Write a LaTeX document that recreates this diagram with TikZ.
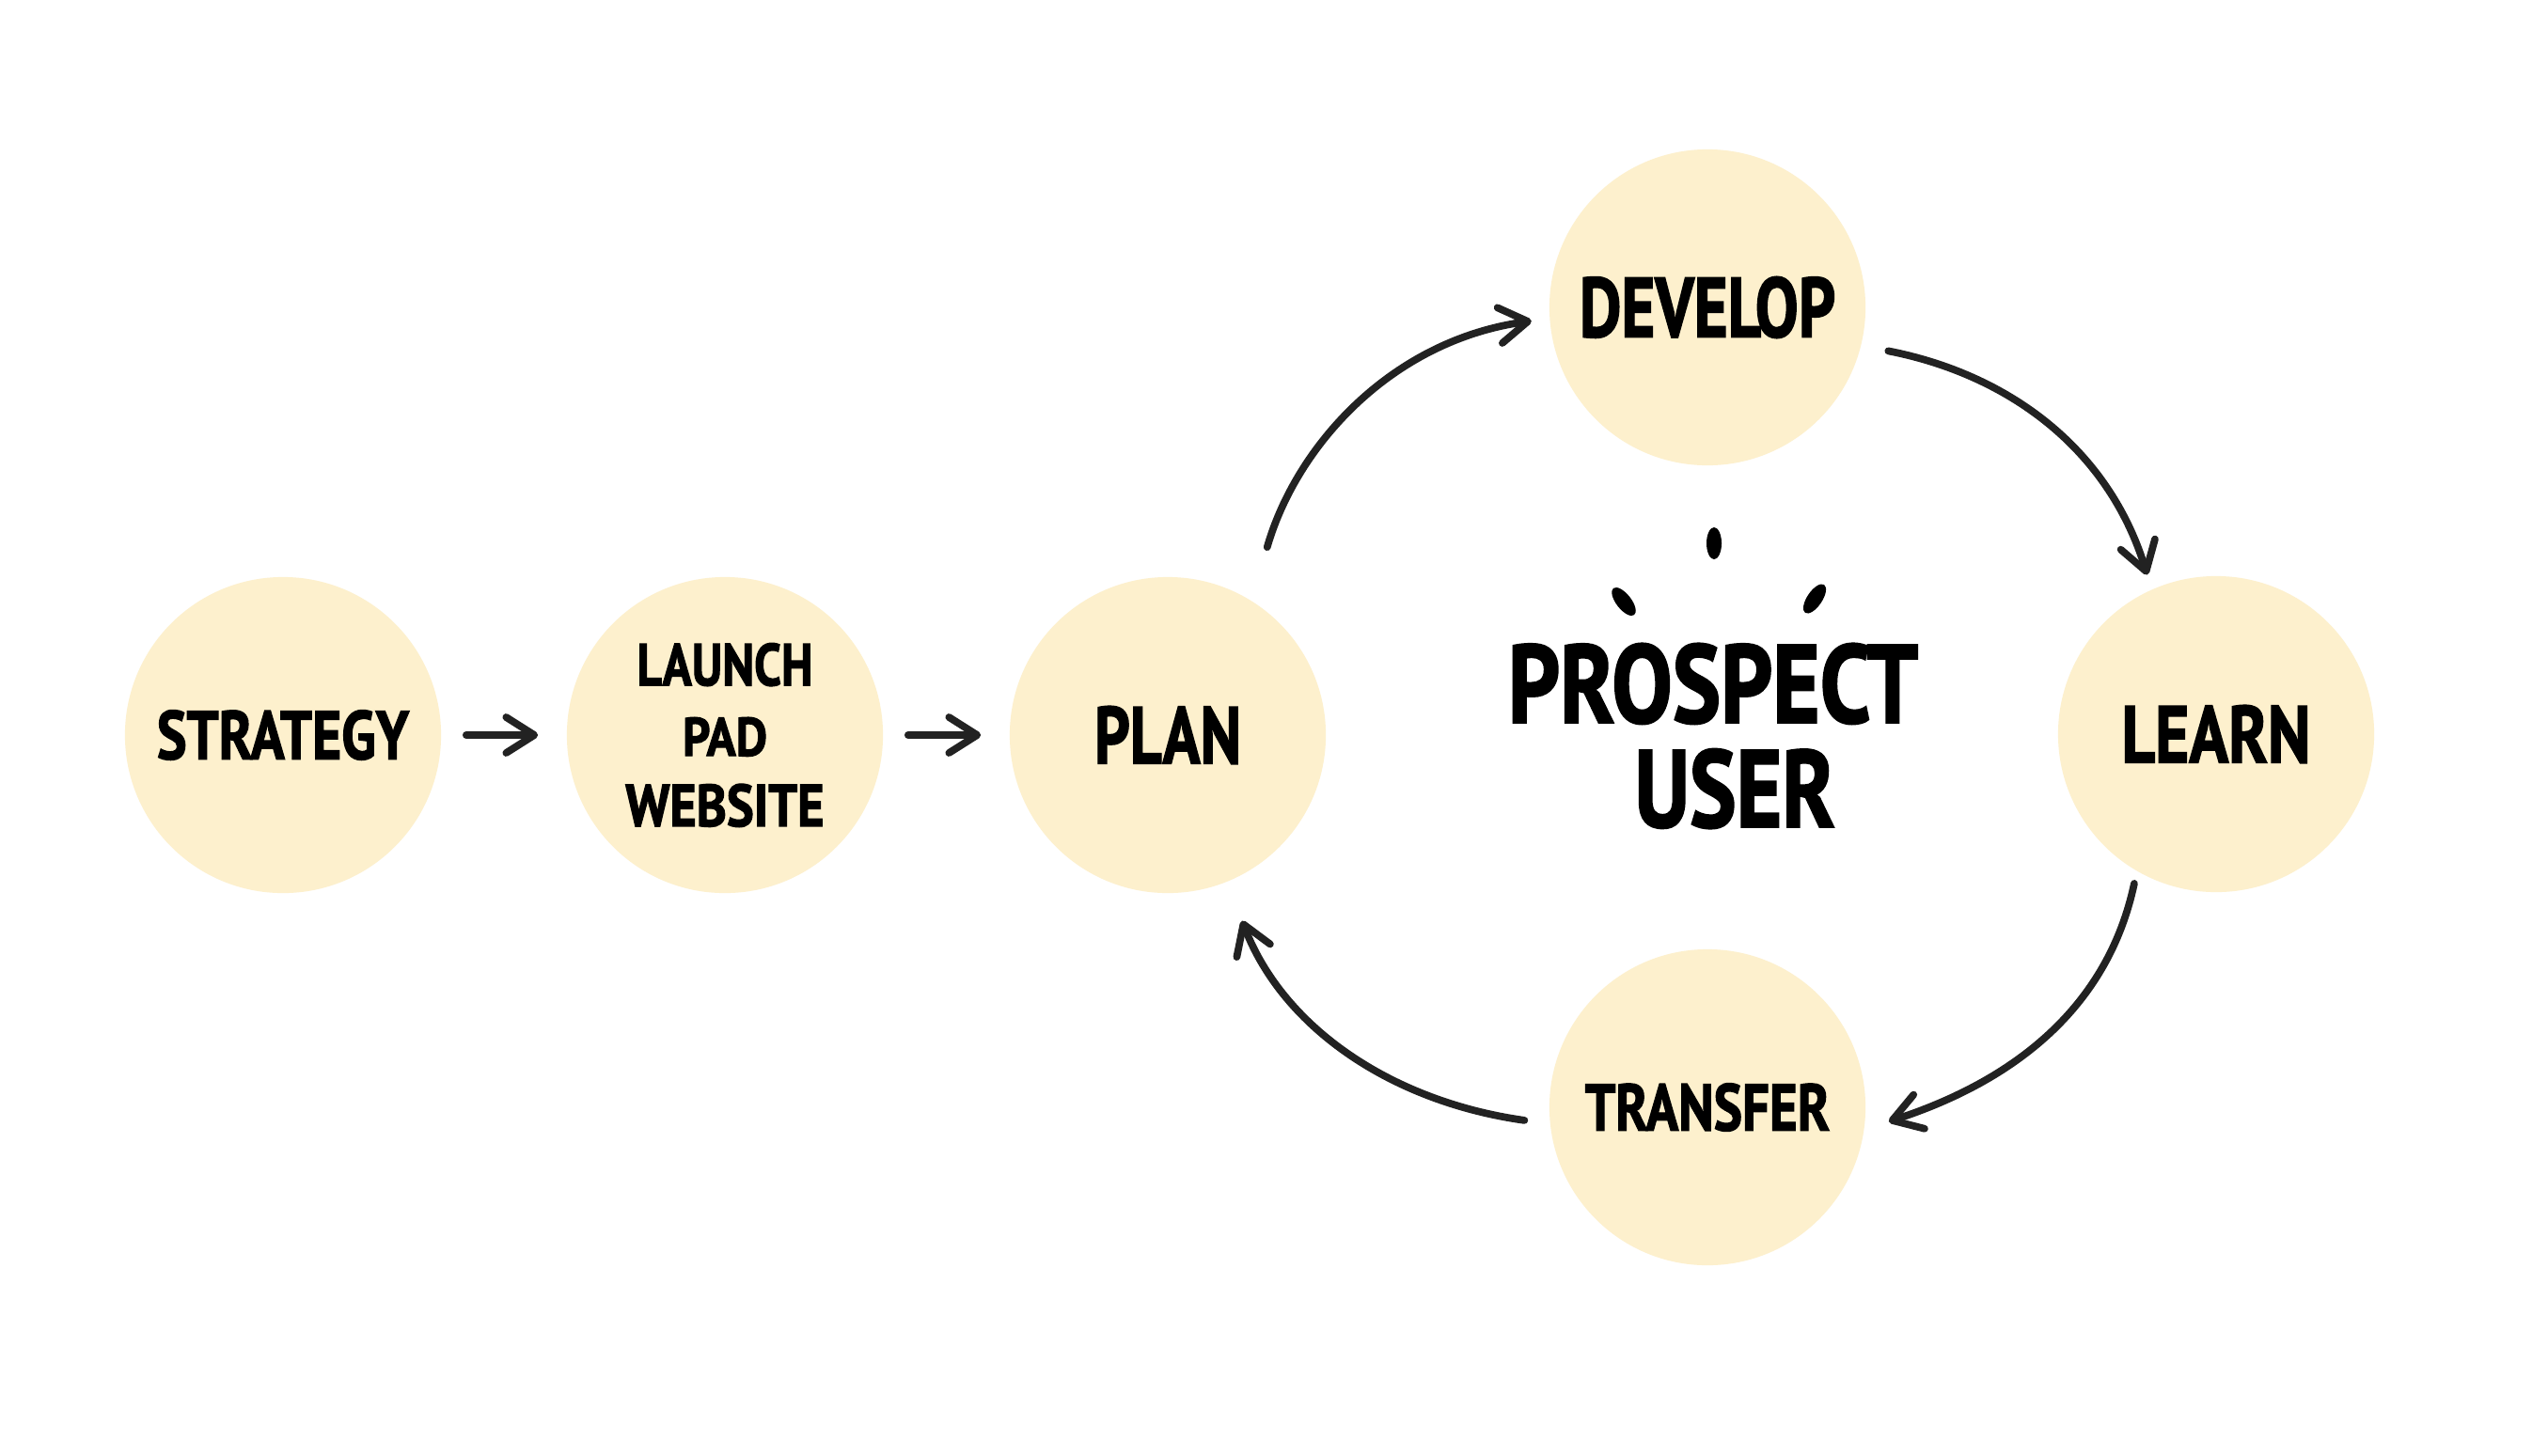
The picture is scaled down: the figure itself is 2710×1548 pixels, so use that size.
\documentclass[tikz,border=0pt]{standalone}
\usepackage{fontspec}
\setmainfont{PT Sans}[BoldFeatures={FakeBold=2}]
\usetikzlibrary{arrows.meta,positioning}
\definecolor{cream}{RGB}{253,240,205}
\definecolor{ink}{RGB}{34,34,34}
\newcommand{\caps}[3]{\resizebox{#2cm}{#3cm}{\bfseries #1}}
\begin{document}
\begin{tikzpicture}[x=0.01cm,y=0.01cm,
	stage/.style={circle,fill=cream,minimum size=3.36cm,inner sep=0pt,align=center,font=\fontsize{10}{21.3}\selectfont},
	flow/.style={draw=ink,line width=2.2pt,line cap=round,-{Straight Barb[length=0.3cm,width=0.38cm,round]}}]
	\fill[white] (0,0) rectangle (2710,-1548);
	\useasboundingbox (0,0) rectangle (2710,-1548);
	\node[stage](strategy) at (301,-782){\caps{STRATEGY}{2.68}{0.52}};
	\node[stage](launch) at (771,-782){\caps{LAUNCH}{1.87}{0.45}\\\caps{PAD}{0.90}{0.41}\\\caps{WEBSITE}{2.11}{0.45}};
	\node[stage](plan) at (1242,-782){\caps{PLAN}{1.56}{0.61}};
	\node[stage](develop) at (1816,-327){\caps{DEVELOP}{2.72}{0.64}};
	\node[stage](learn) at (2357,-781){\caps{LEARN}{2.01}{0.61}};
	\node[stage](transfer) at (1816,-1178){\caps{TRANSFER}{2.60}{0.50}};
	\node[align=center,inner sep=0pt,font=\fontsize{10}{31.6}\selectfont](prospect) at (1822,-783){\caps{PROSPECT}{4.36}{0.84}\\\hspace*{0.46cm}\caps{USER}{2.13}{0.83}};
	\fill (1823,-578) ellipse [x radius=0.08cm,y radius=0.17cm];
	\fill[rotate around={38:(1727,-640)}] (1727,-640) ellipse [x radius=0.08cm,y radius=0.18cm];
	\fill[rotate around={-34:(1930,-637)}] (1930,-637) ellipse [x radius=0.08cm,y radius=0.18cm];
	\draw[flow,shorten <=0.26cm,shorten >=0.30cm] (strategy)--(launch);
	\draw[flow,shorten <=0.26cm,shorten >=0.30cm] (launch)--(plan);
	\draw[flow,shorten <=0.59cm,shorten >=0.19cm] (plan.58) to[out=74,in=188] (develop.184);
	\draw[flow,shorten <=0.29cm,shorten >=0.16cm] (develop.-14) to[out=-11,in=107] (learn.114);
	\draw[flow,shorten <=0.13cm,shorten >=0.27cm] (learn.240) to[out=258,in=18] (transfer.-8);
	\draw[flow,shorten <=0.27cm,shorten >=0.44cm] (transfer.186) to[out=172,in=291] (plan.292);
\end{tikzpicture}
\end{document}
